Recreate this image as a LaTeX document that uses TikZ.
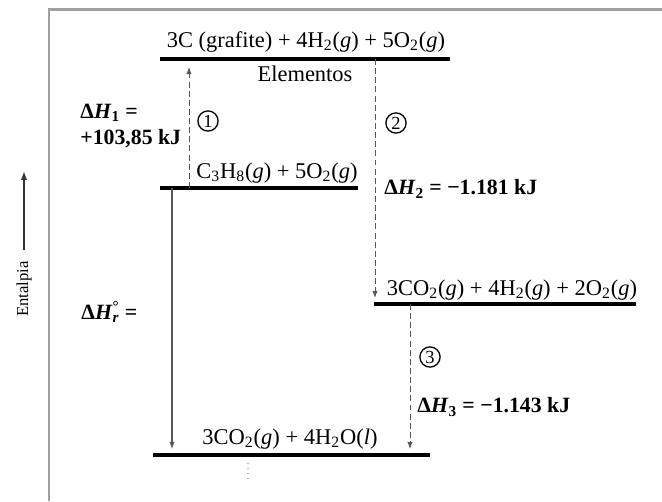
\documentclass[tikz,border=0pt]{standalone}
\usepackage{fontspec}
\setmainfont{Liberation Serif}
\usetikzlibrary{arrows.meta, positioning}

\tikzset{
  level/.style={line width=1.8pt, black},
  frameline/.style={line width=1.4pt, gray!75},
  stepdash/.style={gray!70!black, line width=0.5pt, dash pattern=on 3.4pt off 1.8pt,
    -{Latex[length=4pt,width=3pt]}},
  stepsolid/.style={gray!70!black, line width=0.6pt, -{Latex[length=4pt,width=3pt]}},
  species/.style={font=\fontsize{12.8}{15}\selectfont, inner sep=0pt},
  dhlabel/.style={font=\bfseries\fontsize{12.4}{15}\selectfont, inner sep=0pt, align=left},
  stepnum/.style={circle, draw, line width=0.75pt, inner sep=0pt, minimum size=11.5pt,
    font=\fontsize{10.5}{11}\selectfont},
}

\begin{document}
\begin{tikzpicture}[x=0.02cm, y=-0.02cm]
\useasboundingbox (0,0) rectangle (662,501);

% Frame
\coordinate (fc) at (49,9.5);
\coordinate (fr) at (662,9.5);
\coordinate (fb) at (49,501);
\draw[frameline] (fr) -- (fc) -- (fb);

% Axis
\coordinate (ax0) at (24,250);
\coordinate (ax1) at (24,171);
\draw[black!80, line width=0.8pt, -{Latex[length=5pt,width=3.5pt]}] (ax0) -- (ax1);
\node[rotate=90, font=\fontsize{9.5}{11}\selectfont, inner sep=0pt] (entalpia) at (24,289) {Entalpia};

% Levels
\coordinate (elemL) at (160,59);  \coordinate (elemR) at (450,59);
\coordinate (propL) at (160,188); \coordinate (propR) at (358,188);
\coordinate (midL)  at (374,304); \coordinate (midR)  at (636,304);
\coordinate (prodL) at (153,455); \coordinate (prodR) at (430,455);
\draw[level] (elemL) -- (elemR);
\draw[level] (propL) -- (propR);
\draw[level] (midL) -- (midR);
\draw[level] (prodL) -- (prodR);

\node[species, anchor=base] (elem) at (306,47)
  {3C (grafite) + 4H\textsubscript{2}(\textit{g}) + 5O\textsubscript{2}(\textit{g})};
\node[species, anchor=base] (elemtxt) at (305,81) {Elementos};
\node[species, anchor=base] (prop) at (277,178)
  {C\textsubscript{3}H\textsubscript{8}(\textit{g}) + 5O\textsubscript{2}(\textit{g})};
\node[species, anchor=base] (mid) at (512,295)
  {3CO\textsubscript{2}(\textit{g}) + 4H\textsubscript{2}(\textit{g}) + 2O\textsubscript{2}(\textit{g})};
\node[species, anchor=base] (prod) at (290,444)
  {3CO\textsubscript{2}(\textit{g}) + 4H\textsubscript{2}O(\textit{l})};

% Steps
\coordinate (s1a) at (189,188); \coordinate (s1b) at (189,67);
\coordinate (s2a) at (375,59);  \coordinate (s2b) at (375,298);
\coordinate (s3a) at (410,304); \coordinate (s3b) at (410,449);
\coordinate (sra) at (172,188); \coordinate (srb) at (172,449);
\draw[stepdash] (s1a) -- (s1b);
\draw[stepdash] (s2a) -- (s2b);
\draw[stepdash] (s3a) -- (s3b);
\draw[stepsolid] (sra) -- (srb);

\node[stepnum] (n1) at (208,121) {1};
\node[stepnum] (n2) at (396,123) {2};
\node[stepnum] (n3) at (430,357) {3};

\node[dhlabel, anchor=west] (dh1) at (80,126)
  {Δ\textit{H}\textsubscript{1} =\\+103,85 kJ};
\node[dhlabel, anchor=west] (dh2) at (384,189)
  {Δ\textit{H}\textsubscript{2} = −1.181 kJ};
\node[dhlabel, anchor=west] (dh3) at (417,407)
  {Δ\textit{H}\textsubscript{3} = −1.143 kJ};
\node[dhlabel, anchor=west] (dhr) at (81,312)
  {Δ\textit{H}\rlap{\textsuperscript{°}}\textsubscript{\textit{r}} =};

% faint mark below products
\coordinate (dt0) at (248,463); \coordinate (dt1) at (248,482);
\draw[gray!50, dotted, line width=0.8pt] (dt0) -- (dt1);
\end{tikzpicture}
\end{document}
